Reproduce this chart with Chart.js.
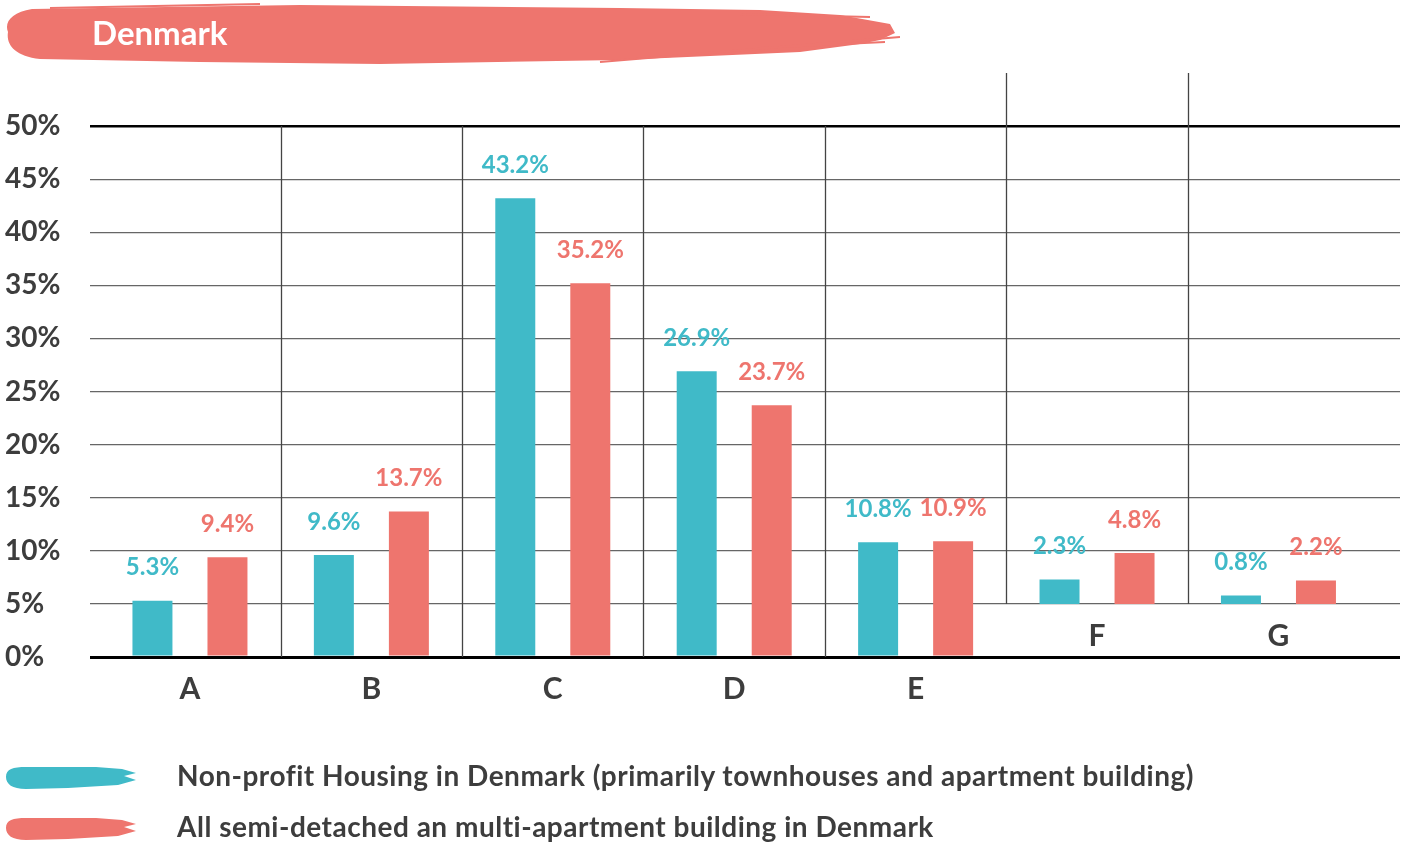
<!DOCTYPE html>
<html>
<head>
<meta charset="utf-8">
<title>Denmark</title>
<script src="https://cdn.jsdelivr.net/npm/chart.js@4.4.1/dist/chart.umd.min.js"></script>
<style>
  body { margin: 0; background: #fff; font-family: Lato, "Open Sans", sans-serif; }
  #wrap { position: relative; width: 1405px; height: 846px; overflow: hidden; }
  #chartBox { position: absolute; left: 0; top: 0; width: 1405px; height: 846px; }
  .banner { position: absolute; left: 0; top: 0; width: 900px; height: 70px; }
  .banner svg { position: absolute; left: 0; top: 0; }
  .banner span { position: absolute; left: 92px; top: 12px; color: #fff; font-weight: 700; font-size: 33px; line-height: 40px; }
  .legend-item { position: absolute; left: 0; height: 30px; }
  .legend-item svg { position: absolute; left: 4px; top: 2px; }
  .legend-item span { position: absolute; left: 177px; top: -5px; white-space: nowrap; color: #3d3d3d; font-weight: 700; font-size: 28px; letter-spacing: 0.5px; line-height: 36px; }
</style>
</head>
<body>
<div id="wrap">
  <div id="chartBox"><canvas id="housingChart"></canvas></div>

  <div class="banner">
    <svg width="900" height="70">
      <path fill="#EE756E" d="M8 32 C4 22 12 12 32 9 L300 5 L620 8 L760 10 L840 15 L890 24 L895 33 L880 40 L860 44 L800 52 L620 60 L380 64 L200 62 L40 59 C14 56 6 44 8 32 Z"/>
      <path stroke="#EE756E" stroke-width="2" d="M740 14 L870 17 M760 48 L885 42 M600 62 L900 37 M50 8 L260 4"/>
    </svg>
    <span>Denmark</span>
  </div>

  <div class="legend-item" style="top:762px">
    <svg width="140" height="28"><path fill="#40BAC8" d="M2 13 C2 5 9 3 22 3 L92 3 L118 5 L132 9 L120 12 L132 16 L114 21 L64 24 L22 25 C8 25 2 20 2 13 Z"/></svg>
    <span id="legendNonProfit"></span>
  </div>
  <div class="legend-item" style="top:813px">
    <svg width="140" height="28"><path fill="#EE756E" d="M2 13 C2 5 9 3 22 3 L92 3 L118 5 L132 9 L120 12 L132 16 L114 21 L64 24 L22 25 C8 25 2 20 2 13 Z"/></svg>
    <span id="legendAll"></span>
  </div>
</div>

<script>
// Data
const categories = ["A", "B", "C", "D", "E", "F", "G"];
const nonProfit = [5.3, 9.6, 43.2, 26.9, 10.8, 2.3, 0.8];
const allBuildings = [9.4, 13.7, 35.2, 23.7, 10.9, 4.8, 2.2];
const seriesNames = [
  "Non-profit Housing in Denmark (primarily townhouses and apartment building)",
  "All semi-detached an multi-apartment building in Denmark"
];
// F and G are drawn on a panel that sits on the 5% line
const raisedCategories = ["F", "G"];
const raisedBase = 5;

const teal = "#40BAC8";
const red = "#EE756E";
const textColor = "#3d3d3d";

document.getElementById("legendNonProfit").textContent = seriesNames[0];
document.getElementById("legendAll").textContent = seriesNames[1];

function isRaised(i) {
  return raisedCategories.includes(categories[i]);
}

// build bar points, raised columns become floating bars
function toPoints(values) {
  return values.map((v, i) => ({
    x: i,
    y: isRaised(i) ? [raisedBase, raisedBase + v] : v
  }));
}

// column dividers and category names, raised columns shifted up by raisedBase
const columnPlugin = {
  id: "columns",
  beforeDatasetsDraw(chart) {
    const { ctx, scales: { x, y } } = chart;
    ctx.save();
    ctx.strokeStyle = "#444";
    ctx.lineWidth = 1.3;
    for (let i = 0; i < categories.length - 1; i++) {
      const shift = isRaised(i + 1) ? raisedBase : 0;
      const px = Math.round(x.getPixelForValue(i + 0.5)) + 0.5;
      ctx.beginPath();
      ctx.moveTo(px, y.getPixelForValue(50 + shift));
      ctx.lineTo(px, y.getPixelForValue(shift));
      ctx.stroke();
    }
    ctx.font = "bold 30px Lato";
    ctx.fillStyle = textColor;
    ctx.textAlign = "center";
    ctx.textBaseline = "middle";
    categories.forEach((c, i) => {
      const base = isRaised(i) ? raisedBase : 0;
      ctx.fillText(c, x.getPixelForValue(i), y.getPixelForValue(base) + 32);
    });
    ctx.restore();
  }
};

// value labels above each bar
const valueLabelPlugin = {
  id: "valueLabels",
  afterDatasetsDraw(chart) {
    const ctx = chart.ctx;
    ctx.save();
    ctx.font = "bold 24px Lato";
    ctx.textAlign = "center";
    ctx.textBaseline = "middle";
    chart.data.datasets.forEach((ds, d) => {
      chart.getDatasetMeta(d).data.forEach((bar, i) => {
        ctx.fillStyle = ds.backgroundColor;
        ctx.fillText(ds.rawValues[i].toFixed(1) + "%", bar.x, bar.y - 33);
      });
    });
    ctx.restore();
  }
};

const ctx = document.getElementById("housingChart").getContext("2d");
new Chart(ctx, {
  type: "bar",
  data: {
    datasets: [
      {
        label: seriesNames[0],
        data: toPoints(nonProfit),
        rawValues: nonProfit,
        backgroundColor: teal,
        categoryPercentage: 0.827,
        barPercentage: 0.533
      },
      {
        label: seriesNames[1],
        data: toPoints(allBuildings),
        rawValues: allBuildings,
        backgroundColor: red,
        categoryPercentage: 0.827,
        barPercentage: 0.533
      }
    ]
  },
  options: {
    responsive: true,
    maintainAspectRatio: false,
    animation: false,
    layout: { padding: { left: 5, top: 126, right: 5, bottom: 189 } },
    plugins: {
      legend: { display: false },
      tooltip: { enabled: false }
    },
    scales: {
      x: {
        type: "linear",
        display: false,
        offset: false,
        min: -0.551,
        max: 6.67,
        // one tick per category so bar widths follow the column spacing
        afterBuildTicks: (scale) => {
          scale.ticks = categories.map((c, i) => ({ value: i }));
        }
      },
      y: {
        min: 0,
        max: 50,
        border: { display: false },
        afterFit: (scale) => { scale.width = 85; },
        grid: {
          drawTicks: false,
          color: (c) => (c.tick.value === 0 || c.tick.value === 50) ? "#000" : "#666",
          lineWidth: (c) => c.tick.value === 0 ? 3 : (c.tick.value === 50 ? 2.5 : 1.2)
        },
        ticks: {
          stepSize: 5,
          crossAlign: "far",
          padding: 0,
          color: textColor,
          font: { family: "Lato", size: 28, weight: "bold" },
          callback: (v) => v + "%"
        }
      }
    }
  },
  plugins: [columnPlugin, valueLabelPlugin]
});
</script>
</body>
</html>
